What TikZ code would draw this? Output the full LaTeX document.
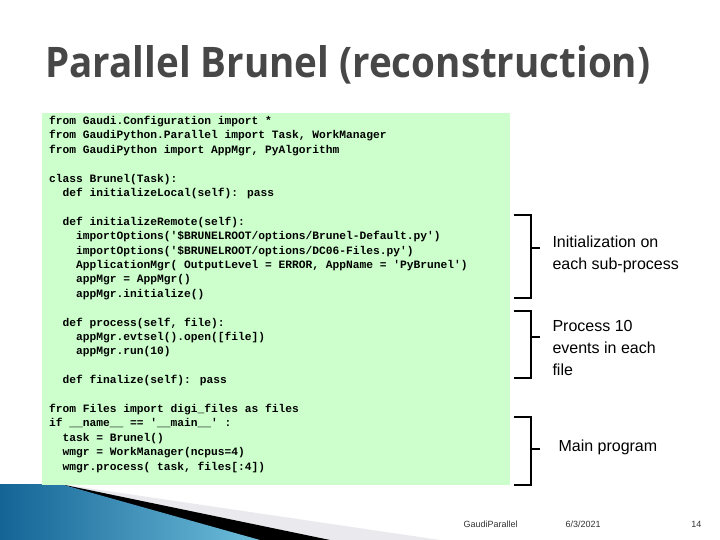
\documentclass[tikz,border=0pt]{standalone}
\usepackage{fontspec}
\setmainfont{Liberation Sans}
\newfontfamily\codefont{Liberation Mono}
\newfontfamily\titlefont{Open Sans}
\newcommand{\ind}[1]{\hspace*{#1\dimexpr 6.75pt\relax}}
\definecolor{tealA}{RGB}{20,100,150}
\definecolor{tealB}{RGB}{110,190,220}
\begin{document}
\begin{tikzpicture}[x=1pt,y=-1pt,
  brace/.style={line width=1.6pt},
  side/.style={anchor=west,align=left,font=\fontsize{16}{22}\selectfont}]
\useasboundingbox (0,0) rectangle (720,540);
\fill[white] (0,0) rectangle (720,540);
% swoosh
\fill[blue!10!gray!15] (60,484) -- (440,540) -- (300,540) -- cycle;
\fill[black] (60,484) -- (330,540) -- (250,540) -- cycle;
\shade[left color=tealA, right color=tealB] (0,484) -- (60,484) -- (260,540) -- (0,540) -- cycle;
% title
\node[anchor=base west,text=black!72,inner sep=0] (title) at (45,78)
  {\resizebox{605pt}{32pt}{\titlefont\bfseries Parallel Brunel (reconstruction)}};
% code box
\fill[green!20] (42,113) rectangle (510,485);
\node[anchor=north west,align=left,inner sep=0,font=\codefont\bfseries\fontsize{11.25}{14.4}\selectfont] (code) at (49,116) {%
from Gaudi.Configuration import *\\
from GaudiPython.Parallel import Task, WorkManager\\
from GaudiPython import AppMgr, PyAlgorithm\\
\mbox{}\\
class Brunel(Task):\\
\ind{2}def initializeLocal(self): pass\\
\mbox{}\\
\ind{2}def initializeRemote(self):\\
\ind{4}importOptions('\$BRUNELROOT/options/Brunel-Default.py')\\
\ind{4}importOptions('\$BRUNELROOT/options/DC06-Files.py')\\
\ind{4}ApplicationMgr( OutputLevel = ERROR, AppName = 'PyBrunel')\\
\ind{4}appMgr = AppMgr()\\
\ind{4}appMgr.initialize()\\
\mbox{}\\
\ind{2}def process(self, file):\\
\ind{4}appMgr.evtsel().open([file])\\
\ind{4}appMgr.run(10)\\
\mbox{}\\
\ind{2}def finalize(self): pass\\
\mbox{}\\
from Files import digi\_files as files\\
if \_\_name\_\_ == '\_\_main\_\_' :\\
\ind{2}task = Brunel()\\
\ind{2}wmgr = WorkManager(ncpus=4)\\
\ind{2}wmgr.process( task, files[:4])};
% braces
\draw[brace] (514,215) -- (531,215) -- (531,298) -- (514,298);
\draw[brace] (531,248) -- (540,248);
\draw[brace] (514,311) -- (531,311) -- (531,378) -- (514,378);
\draw[brace] (531,337) -- (540,337);
\draw[brace] (514,417) -- (531,417) -- (531,485) -- (514,485);
\draw[brace] (531,449) -- (540,449);
\node[side] (l1) at (549,254) {Initialization on\\each sub-process};
\node[side] (l2) at (549,348) {Process 10\\events in each\\file};
\node[side] (l3) at (555,447) {Main program};
% footer
\node[anchor=base west,font=\fontsize{9}{10}\selectfont,text=black!80] (f1) at (460,527) {GaudiParallel};
\node[anchor=base west,font=\fontsize{9}{10}\selectfont,text=black!80] (f2) at (562,527) {6/3/2021};
\node[anchor=base east,font=\fontsize{9}{10}\selectfont,text=black!80] (f3) at (705,527) {14};
\end{tikzpicture}
\end{document}
